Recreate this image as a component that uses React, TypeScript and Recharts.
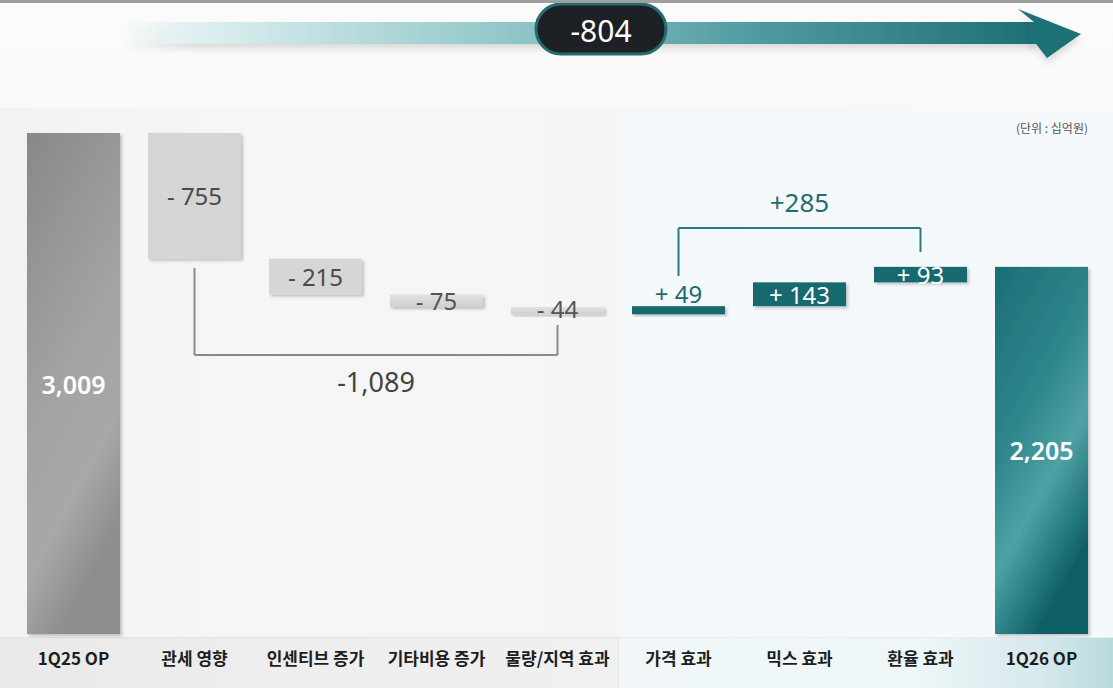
import React from 'react';
import { ComposedChart, Bar, XAxis, YAxis, ReferenceLine } from 'recharts';

const categories = ['1Q25 OP', '관세 영향', '인센티브 증가', '기타비용 증가', '물량/지역 효과', '가격 효과', '믹스 효과', '환율 효과', '1Q26 OP'];
const values = [3009, -755, -215, -75, -44, 49, 143, 93, 2205];
const kinds = ['total', 'delta', 'delta', 'delta', 'delta', 'delta', 'delta', 'delta', 'total'];
const unitLabel = '(단위 : 십억원)';

// bracket levels (annotation, in data units)
const downBracket = { from: '관세 영향', to: '물량/지역 효과', start: 2198, low: 1676, end: 1856 };
const upBracket = { from: '가격 효과', to: '환율 효과', start: 2150, high: 2438, end: 2294 };

const fmt = (n: number) => Math.abs(n).toLocaleString('en-US');

let running = 0;
const data = categories.map((name, i) => {
  const v = values[i];
  let base = 0;
  let size = 0;
  if (kinds[i] === 'total') {
    base = 0;
    size = v;
    running = v;
  } else {
    const next = running + v;
    base = Math.min(running, next);
    size = Math.abs(v);
    running = next;
  }
  const label = kinds[i] === 'total' ? fmt(v) : (v < 0 ? '- ' : '+ ') + fmt(v);
  return { name, base, size, label, raw: v };
});

const downSum = values.slice(1, 5).reduce((a, b) => a + b, 0);
const upSum = values.slice(5, 8).reduce((a, b) => a + b, 0);
const netChange = values[8] - values[0];
const downText = (downSum < 0 ? '-' : '+') + fmt(downSum);
const upText = (upSum < 0 ? '-' : '+') + fmt(upSum);
const netText = (netChange < 0 ? '-' : '+') + fmt(netChange);

const barFills = ['url(#gGray)', '#d5d5d5', '#d6d6d6', 'url(#gSmall)', 'url(#gSmall)', '#18696e', '#18696e', '#18696e', 'url(#gTeal)'];
const labelColors = ['#ffffff', '#4a4a4a', '#4a4a4a', '#555555', '#555555', '#1d6a70', '#ffffff', '#ffffff', '#ffffff'];
const labelShift = [0, 0, 0, 0, -2, -17, 0, 0, 0];
const labelSizes = [25, 24, 24, 24, 24, 24, 24, 24, 25];

const numFont = '"Noto Sans", "Open Sans", sans-serif';
const krFont = '"Noto Sans CJK KR", "Noto Sans", sans-serif';

const BarShape = (props: any) => {
  const { x, y, width, height, payload } = props;
  const i = categories.indexOf(payload?.name);
  return (
    <rect x={x} y={y} width={width} height={Math.max(height, 0)} fill={barFills[i]} filter="url(#shadow)" />
  );
};

const renderLabel = (props: any) => {
  const vb = props.viewBox || props;
  const x = vb.x ?? props.x;
  const y = vb.y ?? props.y;
  const width = vb.width ?? props.width;
  const height = vb.height ?? props.height;
  const i = props.index;
  if (i == null || i < 0) return null;
  const cx = x + width / 2;
  const cy = y + height / 2 + labelShift[i];
  const total = kinds[i] === 'total';
  return (
    <text
      x={cx}
      y={cy}
      textAnchor="middle"
      dominantBaseline="central"
      fill={labelColors[i]}
      fontSize={labelSizes[i]}
      fontWeight={total ? 600 : 400}
      fontFamily={numFont}
    >
      {data[i].label}
    </text>
  );
};

const Tick = (props: any) => {
  const { x, y, payload } = props;
  return (
    <text
      x={x}
      y={y + 15}
      textAnchor="middle"
      dominantBaseline="central"
      fill="#1e1e1e"
      fontSize={17}
      fontWeight={700}
      fontFamily={krFont}
    >
      {payload.value}
    </text>
  );
};

export default function App() {
  return (
    <div style={{ position: 'absolute', left: 0, top: 0, width: 1113, height: 688, overflow: 'hidden', background: '#f7f7f7' }}>
      {/* backgrounds */}
      <div style={{ position: 'absolute', left: 0, top: 0, width: 1113, height: 110, background: 'linear-gradient(180deg, #fbfbfb 0%, #f9f9f9 100%)' }} />
      <div style={{ position: 'absolute', left: 0, top: 108, width: 618, height: 529, background: 'linear-gradient(90deg, #f2f2f2 0%, #f6f6f6 40%, #f5f5f5 100%)' }} />
      <div style={{ position: 'absolute', left: 618, top: 108, width: 495, height: 529, background: 'linear-gradient(90deg, #f3f8fa 0%, #f5f9fb 100%)' }} />
      <div style={{ position: 'absolute', left: 0, top: 637, width: 618, height: 51, background: 'linear-gradient(90deg, #e9e9e9 0%, #eeeeee 50%, #f0f0f0 100%)', borderTop: '1px solid #e2e2e2' }} />
      <div style={{ position: 'absolute', left: 618, top: 637, width: 495, height: 51, background: 'linear-gradient(90deg, #f1f7f9 0%, #eef6f8 60%, #d6e9ec 85%, #b9dadd 100%)', borderTop: '1px solid #e4eef0', borderLeft: '1px solid #e0e6e8' }} />
      <div style={{ position: 'absolute', left: 0, top: 0, width: 1113, height: 3, background: '#9f9f9f', zIndex: 3 }} />

      {/* top arrow */}
      <svg width={1113} height={80} style={{ position: 'absolute', left: 0, top: 0, zIndex: 2 }}>
        <defs>
          <linearGradient id="arrowG" x1="0" y1="0" x2="1" y2="0">
            <stop offset="0" stopColor="#e4f3f4" stopOpacity="0" />
            <stop offset="0.08" stopColor="#dff0f1" stopOpacity="1" />
            <stop offset="0.45" stopColor="#8cc3c6" />
            <stop offset="0.7" stopColor="#4f9a9f" />
            <stop offset="1" stopColor="#1f6f76" />
          </linearGradient>
          <filter id="arrowSh" x="-10%" y="-50%" width="120%" height="200%">
            <feDropShadow dx="0" dy="5" stdDeviation="3" floodColor="#000" floodOpacity="0.12" />
          </filter>
        </defs>
        <rect x={120} y={22} width={915} height={22} fill="url(#arrowG)" filter="url(#arrowSh)" />
        <polygon points="1018,9 1081,34 1047,58 1036,44 1030,44 1030,22 1034,22" fill="#1e6f76" filter="url(#arrowSh)" />
        <rect x={536} y={4} width={130} height={50} rx={25} fill="#1d2024" stroke="#256c71" strokeWidth={3} />
        <text x={601} y={30} textAnchor="middle" dominantBaseline="central" fill="#ffffff" fontSize={30} fontFamily={numFont}>
          {netText}
        </text>
      </svg>

      <div style={{ position: 'absolute', left: 1088, top: 119, fontSize: 12, color: '#555', fontFamily: krFont, transform: 'translateX(-100%)', whiteSpace: 'nowrap', zIndex: 2 }}>
        {unitLabel}
      </div>

      <div style={{ position: 'absolute', left: 0, top: 0, zIndex: 1 }}>
        <ComposedChart width={1113} height={688} data={data} margin={{ top: 133, right: 11, left: 13, bottom: 0 }} barSize={93}>
          <defs>
            <linearGradient id="gGray" x1="0" y1="0" x2="0.35" y2="1">
              <stop offset="0" stopColor="#888888" />
              <stop offset="0.55" stopColor="#a3a3a3" />
              <stop offset="0.8" stopColor="#a8a8a8" />
              <stop offset="1" stopColor="#8e8e8e" />
            </linearGradient>
            <linearGradient id="gSmall" x1="0" y1="0" x2="0" y2="1">
              <stop offset="0" stopColor="#e2e2e2" />
              <stop offset="1" stopColor="#d0d0d0" />
            </linearGradient>
            <linearGradient id="gTeal" x1="0" y1="0" x2="0.45" y2="1">
              <stop offset="0" stopColor="#1b6e75" />
              <stop offset="0.45" stopColor="#2f868b" />
              <stop offset="0.7" stopColor="#4ea2a5" />
              <stop offset="0.85" stopColor="#2c8186" />
              <stop offset="1" stopColor="#0f5f64" />
            </linearGradient>
            <filter id="shadow" x="-10%" y="-10%" width="130%" height="140%">
              <feDropShadow dx="2" dy="2" stdDeviation="1.5" floodColor="#000" floodOpacity="0.22" />
            </filter>
          </defs>
          <XAxis dataKey="name" axisLine={false} tickLine={false} interval={0} height={54} tick={<Tick />} />
          <YAxis hide domain={[0, values[0]]} />
          <Bar dataKey="base" stackId="w" fill="transparent" isAnimationActive={false} />
          <Bar dataKey="size" stackId="w" isAnimationActive={false} shape={<BarShape />} label={renderLabel} />

          <ReferenceLine segment={[{ x: downBracket.from, y: downBracket.start }, { x: downBracket.from, y: downBracket.low }]} stroke="#8a8a8a" strokeWidth={2} ifOverflow="visible" />
          <ReferenceLine
            segment={[{ x: downBracket.from, y: downBracket.low }, { x: downBracket.to, y: downBracket.low }]}
            stroke="#8a8a8a"
            strokeWidth={2}
            ifOverflow="visible"
            label={{ value: downText, position: 'bottom', offset: 18, fill: '#444', fontSize: 27, fontFamily: numFont }}
          />
          <ReferenceLine segment={[{ x: downBracket.to, y: downBracket.low }, { x: downBracket.to, y: downBracket.end }]} stroke="#8a8a8a" strokeWidth={2} ifOverflow="visible" />

          <ReferenceLine segment={[{ x: upBracket.from, y: upBracket.start }, { x: upBracket.from, y: upBracket.high }]} stroke="#2a7a80" strokeWidth={2} ifOverflow="visible" />
          <ReferenceLine
            segment={[{ x: upBracket.from, y: upBracket.high }, { x: upBracket.to, y: upBracket.high }]}
            stroke="#2a7a80"
            strokeWidth={2}
            ifOverflow="visible"
            label={{ value: upText, position: 'top', offset: 16, fill: '#1f6d73', fontSize: 26, fontFamily: numFont }}
          />
          <ReferenceLine segment={[{ x: upBracket.to, y: upBracket.high }, { x: upBracket.to, y: upBracket.end }]} stroke="#2a7a80" strokeWidth={2} ifOverflow="visible" />
        </ComposedChart>
      </div>
    </div>
  );
}
